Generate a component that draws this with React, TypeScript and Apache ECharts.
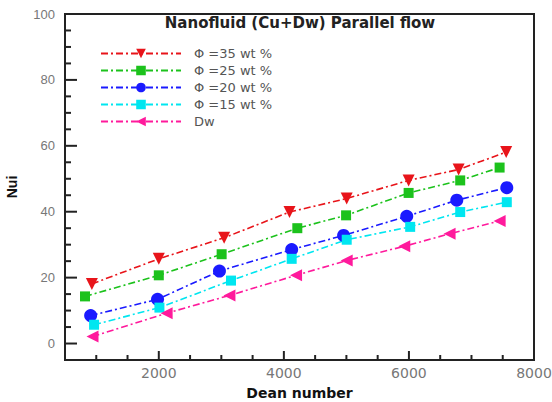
import React, { useEffect, useRef } from "react";
import * as echarts from "echarts";

// Nusselt number vs Dean number, Cu + distilled water, parallel flow
const seriesNames = ["Φ =35 wt %", "Φ =25 wt %", "Φ =20 wt %", "Φ =15 wt %", "Dw"];

const dean35 = [930, 2000, 3045, 4090, 5005, 5995, 6795, 7555];
const nu35 = [18.1, 25.7, 32.1, 39.9, 44.0, 49.5, 52.8, 58.1];

const dean25 = [820, 2000, 3005, 4215, 4995, 5995, 6820, 7450];
const nu25 = [14.3, 20.7, 27.1, 35.0, 38.9, 45.7, 49.5, 53.4];

const dean20 = [910, 1980, 2970, 4125, 4955, 5965, 6765, 7565];
const nu20 = [8.5, 13.4, 22.0, 28.5, 32.8, 38.6, 43.5, 47.3];

const dean15 = [965, 2010, 3155, 4125, 5005, 6020, 6820, 7565];
const nu15 = [5.7, 10.9, 19.1, 25.7, 31.5, 35.4, 39.9, 42.9];

const deanDw = [940, 2125, 3130, 4195, 5005, 5925, 6650, 7450];
const nuDw = [2.1, 9.2, 14.6, 20.7, 25.2, 29.5, 33.3, 37.2];

const xTicks = [2000, 4000, 6000, 8000];
const yTicks = [0, 20, 40, 60, 80, 100];
const xMinorTicks = [1000, 1500, 2500, 3000, 3500, 4500, 5000, 5500, 6500, 7000, 7500];
const yMinorTicks = [5, 10, 15, 25, 30, 35, 45, 50, 55, 65, 70, 75, 85, 90, 95];

const colors = ["#e8141a", "#1cc21c", "#1a1aff", "#00e6f0", "#ff1a9c"];
const symbols = ["triangle", "rect", "circle", "rect", "triangle"];
const rotations = [180, 0, 0, 0, 90];
const sizes = [12, 10, 13, 10, 12];

const zip = (xs: number[], ys: number[]) => xs.map((x, i) => [x, ys[i]]);
const allData = [
  zip(dean35, nu35),
  zip(dean25, nu25),
  zip(dean20, nu20),
  zip(dean15, nu15),
  zip(deanDw, nuDw),
];

// inward tick marks: [axis (0 = x, 1 = y), value, length]
const tickMarks = [
  ...xTicks.map((v) => [0, v, 9]),
  ...xMinorTicks.map((v) => [0, v, 5]),
  ...yTicks.map((v) => [1, v, 12]),
  ...yMinorTicks.map((v) => [1, v, 6]),
];

const narrowFont = "Liberation Sans, Arial, sans-serif";
const wideFont = "DejaVu Sans, Verdana, sans-serif";

export default function App() {
  const ref = useRef<HTMLDivElement>(null);

  useEffect(() => {
    if (!ref.current) return;
    const chart = echarts.init(ref.current, undefined, { renderer: "svg" });

    const xMin = 500;
    const xMax = 8000;
    const yMin = -5;
    const yMax = 100;
    const axisColor = "#222";

    chart.setOption({
      animation: false,
      title: {
        text: "Nanofluid (Cu+Dw) Parallel flow",
        left: 300,
        top: 15,
        padding: 0,
        textAlign: "center",
        textStyle: { fontFamily: wideFont, fontSize: 15, fontWeight: "bold", color: "#222" },
      },
      legend: {
        orient: "vertical",
        left: 100,
        top: 47,
        padding: 0,
        itemWidth: 80,
        itemHeight: 12,
        itemGap: 4,
        data: seriesNames,
        textStyle: {
          fontFamily: wideFont,
          fontSize: 13,
          lineHeight: 13,
          color: "#555",
          padding: [0, 0, 0, 8],
        },
      },
      grid: {
        left: 65,
        top: 14,
        right: 18,
        bottom: 42,
        outerBoundsMode: "none",
        containLabel: false,
        show: true,
        borderColor: axisColor,
        borderWidth: 2,
      },
      xAxis: {
        type: "value",
        min: xMin,
        max: xMax,
        name: "Dean number",
        nameLocation: "middle",
        nameGap: 26,
        nameTextStyle: { fontFamily: wideFont, fontSize: 14, fontWeight: "bold", color: "#111" },
        axisLine: { show: true, onZero: false, lineStyle: { color: axisColor, width: 2 } },
        axisTick: { show: false },
        axisLabel: {
          customValues: xTicks,
          formatter: (v: number) => String(v),
          margin: 6,
          color: "#777",
          fontSize: 14,
          fontFamily: wideFont,
        },
        splitLine: { show: false },
      },
      yAxis: {
        type: "value",
        min: yMin,
        max: yMax,
        name: "Nui",
        nameLocation: "middle",
        nameGap: 46,
        nameTextStyle: { fontFamily: narrowFont, fontSize: 14, fontWeight: "bold", color: "#111" },
        axisLine: { show: true, onZero: false, lineStyle: { color: axisColor, width: 2 } },
        axisTick: { show: false },
        axisLabel: {
          customValues: yTicks,
          formatter: (v: number) => String(v),
          margin: 10,
          color: "#777",
          fontSize: 13,
          fontFamily: narrowFont,
        },
        splitLine: { show: false },
      },
      series: [
        ...seriesNames.map((name, i) => ({
          name,
          type: "line",
          data: allData[i],
          symbol: symbols[i],
          symbolSize: sizes[i],
          symbolRotate: rotations[i],
          showAllSymbol: true,
          lineStyle: { color: colors[i], width: 1.6, type: [7, 3, 2, 3] },
          itemStyle: { color: colors[i] },
          emphasis: { disabled: true },
        })),
        {
          type: "custom",
          silent: true,
          z: 3,
          data: tickMarks,
          renderItem: (_params: any, api: any) => {
            const which = api.value(0);
            const v = api.value(1);
            const len = api.value(2);
            if (which === 0) {
              const p = api.coord([v, yMin]);
              return {
                type: "line",
                shape: { x1: p[0], y1: p[1], x2: p[0], y2: p[1] - len },
                style: { stroke: axisColor, lineWidth: 2 },
              };
            }
            const p = api.coord([xMin, v]);
            return {
              type: "line",
              shape: { x1: p[0], y1: p[1], x2: p[0] + len, y2: p[1] },
              style: { stroke: axisColor, lineWidth: 2 },
            };
          },
        },
      ],
    });

    return () => chart.dispose();
  }, []);

  return (
    <div
      ref={ref}
      style={{ position: "fixed", left: 0, top: 0, width: 552, height: 402, background: "#fff" }}
    />
  );
}
